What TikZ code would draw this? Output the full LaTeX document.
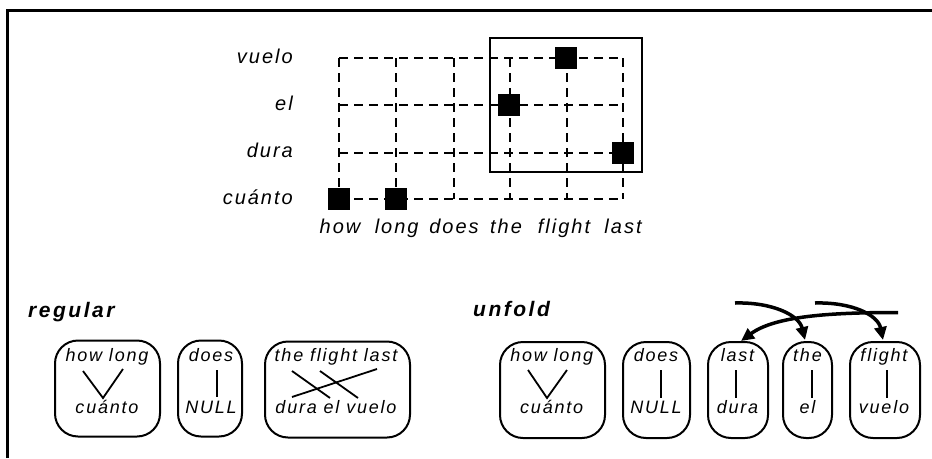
\documentclass[tikz,border=0pt]{standalone}
\usepackage{fontspec}
\usetikzlibrary{arrows.meta}
\newfontfamily\hv[LetterSpace=10]{Liberation Sans}
\newfontfamily\hvb[LetterSpace=12]{Liberation Sans}
\tikzset{
  lab/.style={font=\hv\itshape\fontsize{20}{22}\selectfont, inner sep=0pt},
  blab/.style={font=\hv\itshape\fontsize{18}{20}\selectfont, inner sep=0pt, anchor=base},
  ttl/.style={font=\hvb\bfseries\itshape\fontsize{21}{23}\selectfont, inner sep=0pt, anchor=base west},
  sq/.style={fill=black, draw=none, minimum size=22pt, inner sep=0pt},
  gridline/.style={dash pattern=on 9pt off 6pt, line width=1.8pt},
  rbox/.style={draw, line width=2pt, rounded corners=23pt, minimum height=96pt, inner sep=0pt},
  link/.style={line width=1.8pt},
  bigarrow/.style={line width=3.5pt, -{Triangle[length=13pt,width=12pt]}},
}
\begin{document}
\begin{tikzpicture}[x=1pt,y=-1pt]
\useasboundingbox (0,0) rectangle (932,458);
% outer frame (top and left edges)
\draw[line width=2.2pt] (7.5,458) -- (7.5,10.5) -- (932,10.5);

% grid
\foreach \yy in {58.3,105,152.7,199.3} \draw[gridline] (339,\yy) -- (623,\yy);
\foreach \xx in {339,396,454,510,567,623} \draw[gridline] (\xx,58.3) -- (\xx,199.3);

% framed region
\node[draw, line width=1.8pt, inner sep=0pt, minimum width=151.7pt, minimum height=133.4pt] (frame) at (565.85,105) {};

% alignment points
\node[sq] (p1) at (339,199.3) {};
\node[sq] (p2) at (396,199.3) {};
\node[sq] (p3) at (509,105) {};
\node[sq] (p4) at (566,58.3) {};
\node[sq] (p5) at (622.5,152.7) {};

% row labels
\node[lab, anchor=base east] (rvuelo) at (293,63.3) {vuelo};
\node[lab, anchor=base east] (rel) at (293,110) {el};
\node[lab, anchor=base east] (rdura) at (293,157.7) {dura};
\node[lab, anchor=base east] (rcuanto) at (293,204.3) {cuánto};

% column labels
\node[lab, anchor=base] (chow) at (340,233) {how};
\node[lab, anchor=base] (clong) at (396.7,233) {long};
\node[lab, anchor=base] (cdoes) at (454,233) {does};
\node[lab, anchor=base] (cthe) at (506,233) {the};
\node[lab, anchor=base] (cflight) at (564,233) {flight};
\node[lab, anchor=base] (clast) at (623,233) {last};

% ---------------- regular ----------------
\node[ttl] (regular) at (28,317) {regular};
\node[rbox, minimum width=105pt] (r1) at (107.5,388.5) {};
\node[rbox, minimum width=64pt] (r2) at (210,388.5) {};
\node[rbox, minimum width=145pt] (r3) at (337.5,389.5) {};

\node[blab] (r1t) at (107,361) {how long};
\node[blab] (r1b) at (107,413) {cuánto};
\node[blab] (r2t) at (211,361) {does};
\node[blab] (r2b) at (211,413) {NULL};
\node[blab] (r3t) at (336,361) {the flight last};
\node[blab] (r3b) at (336,413) {dura el vuelo};

\coordinate (r1a) at (83,371);
\coordinate (r1v) at (103,398);
\coordinate (r1c) at (123,369);
\draw[link] (r1a) -- (r1v) -- (r1c);
\coordinate (r2a) at (217,370);
\coordinate (r2c) at (217,397);
\draw[link] (r2a) -- (r2c);
\coordinate (x1a) at (292,371);
\coordinate (x1b) at (330,398);
\coordinate (x2a) at (320,371);
\coordinate (x2b) at (358,398);
\coordinate (x3a) at (292,397);
\coordinate (x3b) at (377,369);
\draw[link] (x1a) -- (x1b);
\draw[link] (x2a) -- (x2b);
\draw[link] (x3a) -- (x3b);

% ---------------- unfold ----------------
\node[ttl] (unfold) at (473,316) {unfold};
\node[rbox, minimum width=105pt] (u1) at (552.5,390) {};
\node[rbox, minimum width=67pt] (u2) at (656.5,390) {};
\node[rbox, minimum width=60pt] (u3) at (738,390) {};
\node[rbox, minimum width=49pt] (u4) at (807.5,390) {};
\node[rbox, minimum width=70pt] (u5) at (885,390) {};

\node[blab] (u1t) at (551.7,361.5) {how long};
\node[blab] (u1b) at (551.7,413) {cuánto};
\node[blab] (u2t) at (656,361.5) {does};
\node[blab] (u2b) at (656,413) {NULL};
\node[blab] (u3t) at (737.5,361.5) {last};
\node[blab] (u3b) at (737.5,413) {dura};
\node[blab] (u4t) at (807.5,361.5) {the};
\node[blab] (u4b) at (807.5,413) {el};
\node[blab] (u5t) at (884,361.5) {flight};
\node[blab] (u5b) at (884,413) {vuelo};

\coordinate (u1a) at (528,370);
\coordinate (u1v) at (547,398);
\coordinate (u1c) at (567,370);
\draw[link] (u1a) -- (u1v) -- (u1c);
\coordinate (u2a) at (661,370);
\coordinate (u2c) at (661,398);
\draw[link] (u2a) -- (u2c);
\coordinate (u3a) at (736,370);
\coordinate (u3c) at (736,398);
\draw[link] (u3a) -- (u3c);
\coordinate (u4a) at (811.7,370);
\coordinate (u4c) at (811.7,398);
\draw[link] (u4a) -- (u4c);
\coordinate (u5a) at (887,370);
\coordinate (u5c) at (887,398);
\draw[link] (u5a) -- (u5c);

% reordering arrows
\coordinate (a1s) at (735,303);
\coordinate (a2s) at (815,303);
\coordinate (a3s) at (898,312.5);
\coordinate (a1e) at (805,340);
\coordinate (a2e) at (883,340);
\coordinate (a3e) at (741,341);
\draw[bigarrow] (a1s) .. controls (772,302) and (799,315) .. (a1e);
\draw[bigarrow] (a2s) .. controls (852,302) and (878,315) .. (a2e);
\draw[bigarrow] (a3s) .. controls (830,312.5) and (775,316) .. (a3e);
\end{tikzpicture}
\end{document}
